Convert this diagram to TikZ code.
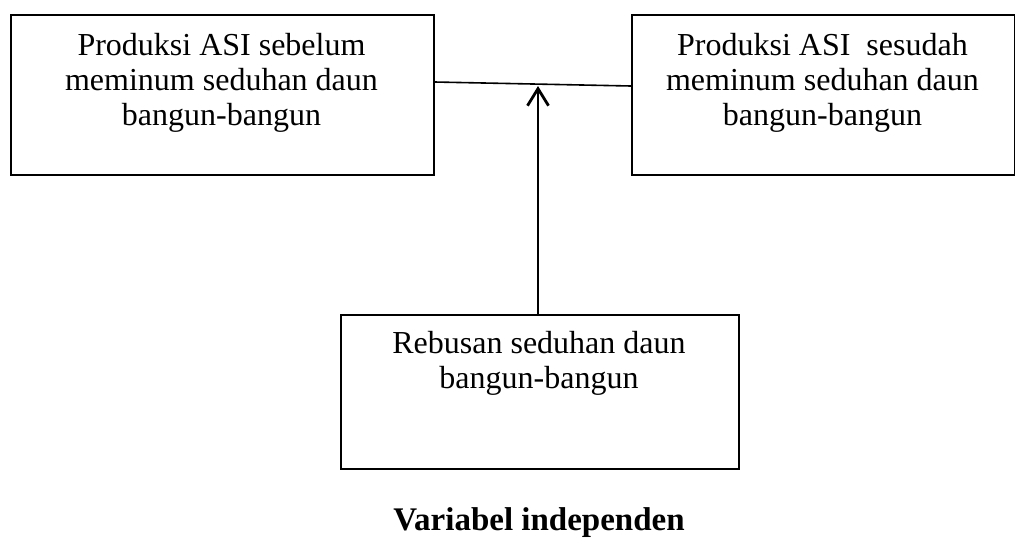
\documentclass[tikz,border=0pt]{standalone}
\usepackage{fontspec}
\setmainfont{Liberation Serif}
\usetikzlibrary{arrows.meta}
\begin{document}
\begin{tikzpicture}[x=1pt,y=-1pt,
  box/.style={draw, line width=1.6pt, inner sep=0pt, anchor=north west},
  lbl/.style={align=center, inner sep=0pt, anchor=base, font=\fontsize{32}{35}\selectfont},
  arr/.style={line width=2.8pt, -{Straight Barb[length=17pt,width=21pt]}}]
\useasboundingbox (0,0) rectangle (1015,550);
\node[box, minimum width=423pt, minimum height=160pt] (pre) at (10,14) {};
\node[box, minimum width=382.5pt, minimum height=160pt] (post) at (631,14) {};
\node[box, minimum width=398pt, minimum height=154pt] (ind) at (340,314) {};
\node[lbl] (preT) at (221.5,125) {Produksi ASI sebelum\\meminum seduhan daun\\bangun-bangun};
\node[lbl] (postT) at (822.5,125) {Produksi ASI\ \ sesudah\\meminum seduhan daun\\bangun-bangun};
\node[lbl] (indT) at (539,388) {Rebusan seduhan daun\\bangun-bangun};
\node[anchor=base, inner sep=0pt, font=\fontsize{33}{36}\selectfont\bfseries] (cap) at (539,530) {Variabel independen};
\draw[line width=1.6pt] ([yshift=-68pt]pre.north east) -- ([yshift=-72pt]post.north west);
\coordinate (tip) at (538,86);
\draw[arr] (ind.north -| tip) -- (tip);
\end{tikzpicture}
\end{document}
